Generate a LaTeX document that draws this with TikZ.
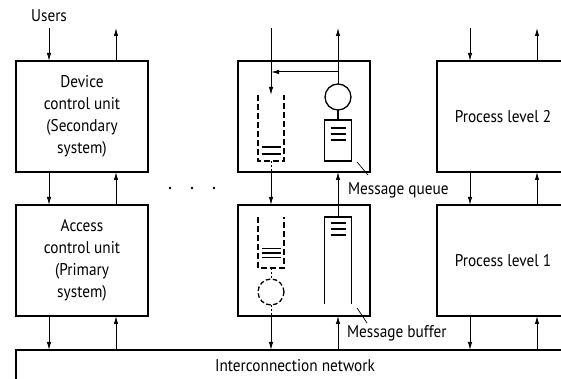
\documentclass[tikz,border=0pt]{standalone}
\usepackage{fontspec}
\setmainfont{PT Sans}[FakeStretch=0.9]
\usepackage{tikz}
\usetikzlibrary{arrows.meta}
\usetikzlibrary{positioning}
\newcommand*{\diagfont}{\fontsize{17}{22}\selectfont}
\tikzstyle{base}=[x=1pt, y=1pt, inner sep=0pt, outer sep=0pt]
\tikzstyle{unit}=[draw, line width=1.5pt, minimum width=132pt, minimum height=111pt, align=center]
\tikzstyle{flow}=[line width=1pt, -{Latex[length=8pt,width=4.5pt]}]
\tikzstyle{part}=[line width=1.3pt]
\tikzstyle{qline}=[part, dash pattern=on 6pt off 3pt]
\tikzstyle{dotline}=[line width=1pt, dash pattern=on 2pt off 2pt]
\tikzstyle{note}=[anchor=base west, inner sep=0pt]

\begin{document}
\begin{tikzpicture}[base]
    \diagfont
    \useasboundingbox (0,0) rectangle (561,379);
    \clip (0,0) rectangle (561,379);

    % units
    \node [unit] (dcu) at (82,262.5) {Device\\control unit\\(Secondary\\system)};
    \node [unit, below=33pt of dcu] (acu) {Access\\control unit\\(Primary\\system)};
    \node [unit] (top) at (304,262.5) {};
    \node [unit, below=33pt of top] (bot) {};
    \node [unit] (pl2) at (503,262.5) {Process level 2};
    \node [unit, below=33pt of pl2] (pl1) {Process level 1};
    \node [draw, line width=1.5pt, minimum width=558pt, minimum height=32pt] (net) at (295,13) {Interconnection network};
    \node [anchor=base] (users) at (49,357) {Users};

    \foreach \a/\b in {dcu/acu, pl2/pl1} {
        \draw [flow] ([xshift=34pt]\a.north) -- ++(0,33);
        \draw [flow] ([xshift=-33pt]\a.south) -- ([xshift=-33pt]\b.north);
        \draw [flow] ([xshift=34pt]\b.north) -- ([xshift=34pt]\a.south);
    }
    \foreach \b in {acu, bot, pl1} {
        \draw [flow] ([xshift=-33pt]\b.south) -- ([xshift=-33pt]\b.south |- net.north);
        \draw [flow] ([xshift=34pt]\b.south |- net.north) -- ([xshift=34pt]\b.south);
    }
    \draw [flow] ([yshift=-6pt]users.south) -- ([xshift=-33pt]dcu.north);
    \draw [flow] ([xshift=-33pt]pl2.north) ++(0,33) -- ([xshift=-33pt]pl2.north);

    % upper unit: queue, server, message queue
    \node [minimum width=26pt, minimum height=66pt] (inq) at (271,251) {};
    \node [draw, part, circle, minimum size=26pt] (srv) at (338,282) {};
    \node [draw, part, minimum width=27pt, minimum height=41pt] (mq) at (338,238.5) {};
    \draw [qline] (inq.north west) -- (inq.south west) -- (inq.south east) -- (inq.north east);
    \foreach \d in {7,14}
        \draw [part] (inq.south) ++(-9.5,\d) -- ++(19,0);
    \draw [dotline] (inq.south) -- (inq.south |- top.south);
    \draw [part] (srv.south) -- (mq.north);
    \foreach \d in {8,14,20}
        \draw [part] (mq.north) ++(-7.5,-\d) -- ++(15,0);
    \draw [flow] (inq.north) ++(0,67) -- (inq.north);
    \draw [flow] (srv.north) -- ++(0,56);
    \coordinate (tap) at ([yshift=12pt]srv.north);
    \draw [flow] (tap) -- (tap -| inq.north);

    % lower unit: queue, server, message buffer
    \node [minimum width=26pt, minimum height=51pt] (outq) at (271,136.5) {};
    \node [draw, circle, line width=1.3pt, dash pattern=on 4.5pt off 2.5pt, minimum size=26pt] (dsrv) at (271,87) {};
    \node [minimum width=27pt, minimum height=87pt] (mbuf) at (338,118.5) {};
    \draw [qline] (outq.north west) -- (outq.south west) -- (outq.south east) -- (outq.north east);
    \foreach \d in {10.5,15,19.5}
        \draw [part] (outq.south) ++(-9.5,\d) -- ++(19,0);
    \draw [dotline] (outq.south) -- (dsrv.north);
    \draw [dotline] (dsrv.south) -- (dsrv.south |- bot.south);
    \draw [part] (mbuf.south west) -- (mbuf.north west) -- (mbuf.north east) -- (mbuf.south east);
    \foreach \d in {6,12,18}
        \draw [part] (mbuf.north) ++(-7.5,-\d) -- ++(15,0);

    \draw [flow] ([xshift=-33pt]top.south) -- ([xshift=-33pt]bot.north);
    \draw [flow] (mbuf.north) -- (mbuf.north |- top.south);

    % labels
    \node [note] (mqlbl) at (348,184) {Message queue};
    \node [note] (mblbl) at (347,41.7) {Message buffer};
    \draw [line width=0.7pt] (mq.south east) ++(5.5,-1) -- ([shift={(20,20)}]mqlbl.base west);
    \draw [line width=0.7pt] (mbuf.south east) ++(5.5,-4) -- ([shift={(20,14.3)}]mblbl.base west);

    \foreach \x in {170,192,214}
        \fill (\x,191) circle (1.4pt);
\end{tikzpicture}
\end{document}
